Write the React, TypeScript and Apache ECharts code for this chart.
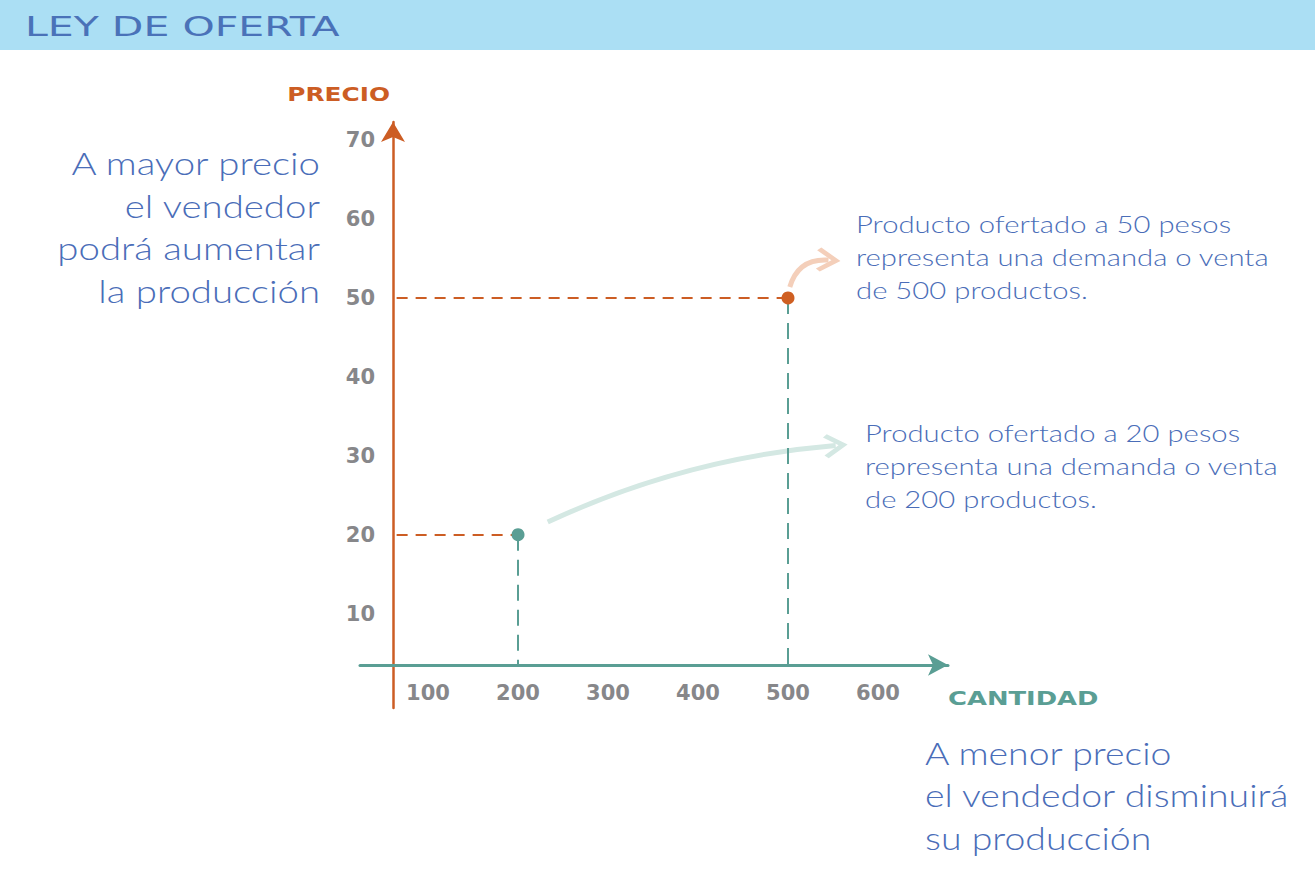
import React, { useEffect, useRef } from "react";
import * as echarts from "echarts";

// ---- data ----
const X_TICKS = [100, 200, 300, 400, 500, 600];
const Y_TICKS = [10, 20, 30, 40, 50, 60, 70];
const QUANTITY = [200, 500];
const PRICE = [20, 50];
const POINT_COLORS = ["#5a9e94", "#cf5f22"];

// axis ranges (value space)
const X_MIN = 24.4;
const X_MAX = 677.8;
const Y_MIN = -1.96;
const Y_MAX = 72.3;
const PRICE_AXIS_AT = 61.1; // quantity where the price axis sits
const QTY_AXIS_AT = 3.49; // price where the quantity axis sits

const TITLE = "LEY DE OFERTA";
const Y_NAME = "PRECIO";
const X_NAME = "CANTIDAD";
const NOTE_LEFT = "A mayor precio\nel vendedor\npodrá aumentar\nla producción";
const NOTE_BOTTOM = "A menor precio\nel vendedor disminuirá\nsu producción";
const NOTE_50 = "Producto ofertado a 50 pesos\nrepresenta una demanda o venta\nde 500 productos.";
const NOTE_20 = "Producto ofertado a 20 pesos\nrepresenta una demanda o venta\nde 200 productos.";

const ORANGE = "#cc5d24";
const TEAL = "#5a9e94";
const GRAY = "#87878a";
const BLUE = "#4a6db8";
const HAND = "Lato, 'Open Sans', sans-serif";
const SANS = "'DejaVu Sans', sans-serif";
const CHEVRON = "path://M10,0 L20,11 L17.6,13.2 L10,5.0 L2.4,13.2 L0,11 Z";

export default function App() {
  const ref = useRef<HTMLDivElement>(null);
  useEffect(() => {
    const chart = echarts.init(ref.current!, undefined, { renderer: "svg" });

    const dashed: any[] = [];
    QUANTITY.forEach((q, i) => {
      dashed.push({
        coords: [[PRICE_AXIS_AT + 4, PRICE[i]], [q, PRICE[i]]],
        lineStyle: { color: ORANGE, width: 2, type: [11, 8], opacity: 1 },
      });
      dashed.push({
        coords: [[q, PRICE[i]], [q, QTY_AXIS_AT]],
        lineStyle: { color: TEAL, width: 2, type: [16, 9], opacity: 1 },
      });
    });

    chart.setOption({
      animation: false,
      backgroundColor: "#ffffff",
      grid: { left: 360, top: 122, width: 588, height: 586, containLabel: false },
      xAxis: {
        type: "value",
        min: X_MIN,
        max: X_MAX,
        position: "bottom",
        offset: -43,
        axisLine: {
          show: true,
          onZero: false,
          symbol: ["none", "arrow"],
          symbolSize: [16, 20],
          lineStyle: { color: TEAL, width: 3 },
        },
        axisTick: { show: false },
        splitLine: { show: false },
        axisLabel: {
          customValues: X_TICKS,
          margin: 17,
          color: GRAY,
          fontSize: 21,
          fontWeight: "bold",
          fontFamily: SANS,
        },
      },
      yAxis: {
        type: "value",
        min: Y_MIN,
        max: Y_MAX,
        position: "left",
        offset: -33,
        axisLine: {
          show: true,
          onZero: false,
          symbol: ["none", "arrow"],
          symbolSize: [18, 20],
          lineStyle: { color: ORANGE, width: 2.5 },
        },
        axisTick: { show: false },
        splitLine: { show: false },
        axisLabel: {
          customValues: Y_TICKS,
          margin: 18,
          color: GRAY,
          fontSize: 21,
          fontWeight: "bold",
          fontFamily: SANS,
        },
      },
      series: [
        {
          type: "lines",
          coordinateSystem: "cartesian2d",
          z: 1,
          symbol: ["none", CHEVRON],
          symbolSize: [36, 24],
          data: [
            {
              coords: [[QUANTITY[1] + 2, PRICE[1] + 1.4], [545, 54.8]],
              lineStyle: { color: "#f4cfba", width: 5, curveness: 0.4, opacity: 1 },
              itemStyle: { color: "#f4cfba" },
            },
            {
              coords: [[QUANTITY[0] + 33, PRICE[0] + 1.6], [553, 31.3]],
              lineStyle: { color: "#d4e8e3", width: 5, curveness: 0.09, opacity: 1 },
              itemStyle: { color: "#d4e8e3" },
            },
          ],
        },
        {
          type: "lines",
          coordinateSystem: "cartesian2d",
          z: 2,
          symbol: ["none", "none"],
          data: dashed,
        },
        {
          type: "scatter",
          z: 3,
          symbolSize: 13,
          itemStyle: { opacity: 1 },
          data: QUANTITY.map((q, i) => ({
            value: [q, PRICE[i]],
            itemStyle: { color: POINT_COLORS[i], opacity: 1 },
          })),
        },
      ],
      graphic: [
        {
          type: "rect",
          shape: { x: 0, y: 0, width: 1315, height: 50 },
          style: { fill: "#abdff4" },
          z: 0,
        },
        {
          type: "text",
          x: 25,
          y: 27,
          scaleX: 1.52,
          style: {
            text: TITLE,
            fill: "#4a72b8",
            font: `27px ${SANS}`,
            verticalAlign: "middle",
          },
        },
        {
          type: "text",
          x: 390,
          y: 94,
          scaleX: 1.24,
          style: {
            text: Y_NAME,
            fill: ORANGE,
            font: `bold 20px ${SANS}`,
            align: "right",
            verticalAlign: "middle",
          },
        },
        {
          type: "text",
          x: 948,
          y: 698,
          scaleX: 1.29,
          style: {
            text: X_NAME,
            fill: TEAL,
            font: `bold 20px ${SANS}`,
            align: "left",
            verticalAlign: "middle",
          },
        },
        {
          type: "text",
          x: 320,
          y: 142,
          scaleX: 1.2,
          style: {
            text: NOTE_LEFT,
            fill: BLUE,
            font: `300 32px ${HAND}`,
            lineHeight: 42.5,
            align: "right",
            verticalAlign: "top",
          },
        },
        {
          type: "text",
          x: 925,
          y: 731,
          scaleX: 1.17,
          style: {
            text: NOTE_BOTTOM,
            fill: BLUE,
            font: `300 32px ${HAND}`,
            lineHeight: 42.5,
            align: "left",
            verticalAlign: "top",
          },
        },
        {
          type: "text",
          x: 856,
          y: 208,
          scaleX: 1.22,
          style: {
            text: NOTE_50,
            fill: BLUE,
            font: `300 24px ${HAND}`,
            lineHeight: 33,
            align: "left",
            verticalAlign: "top",
          },
        },
        {
          type: "text",
          x: 865,
          y: 417,
          scaleX: 1.22,
          style: {
            text: NOTE_20,
            fill: BLUE,
            font: `300 24px ${HAND}`,
            lineHeight: 33,
            align: "left",
            verticalAlign: "top",
          },
        },
      ],
    });
    return () => chart.dispose();
  }, []);
  return (
    <div
      ref={ref}
      style={{ position: "absolute", left: 0, top: 0, width: 1315, height: 873 }}
    />
  );
}
